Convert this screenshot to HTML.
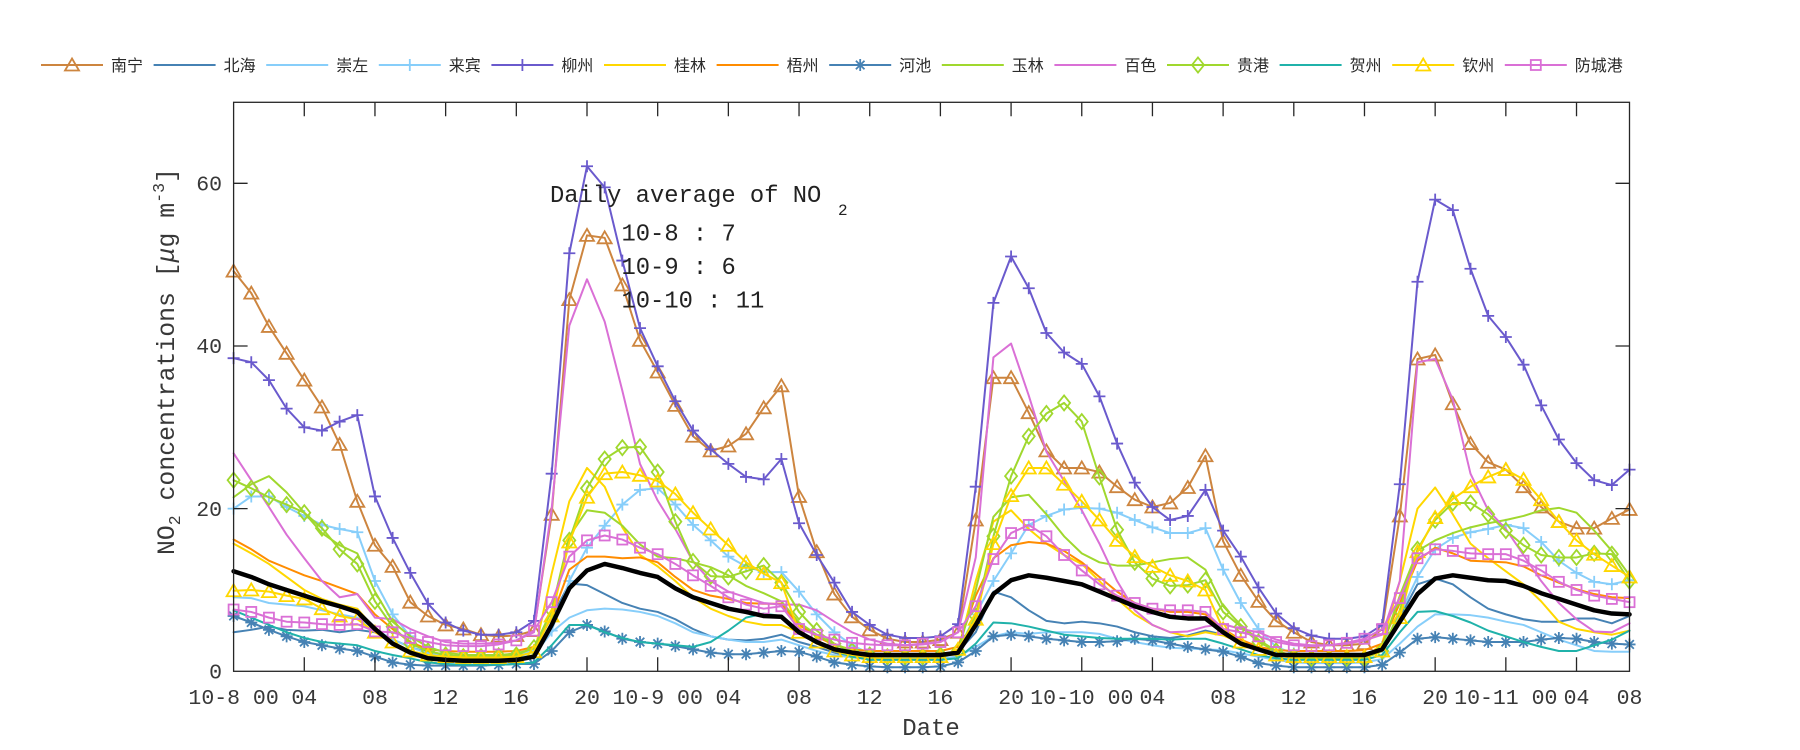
<!DOCTYPE html>
<html>
<head>
<meta charset="utf-8">
<style>
  html,body{margin:0;padding:0;background:#fff;}
  svg{display:block;}
  .mono{font-family:"Liberation Mono","DejaVu Sans Mono",monospace;fill:#383838;}
  .leg{font-family:"Liberation Sans","Noto Sans CJK SC",sans-serif;font-size:16px;fill:#2a2a2a;}
</style>
</head>
<body>
<svg id="chart" width="1800" height="750" viewBox="0 0 1800 750" xmlns="http://www.w3.org/2000/svg">
  <rect x="0" y="0" width="1800" height="750" fill="#fff"/>
  <g id="series"></g>
  <g id="axes" stroke="#262626" stroke-width="1.3" fill="none"></g>

  <!-- y tick labels -->
  <g class="mono" font-size="21.5" text-anchor="end">
    <text x="222" y="678.5">0</text>
    <text x="222" y="515.8">20</text>
    <text x="222" y="353.2">40</text>
    <text x="222" y="190.5">60</text>
  </g>

  <!-- x tick labels -->
  <g class="mono" font-size="21.5" text-anchor="middle">
    <text x="233.6" y="704">10-8 00</text>
    <text x="304.3" y="704">04</text>
    <text x="375.0" y="704">08</text>
    <text x="445.6" y="704">12</text>
    <text x="516.3" y="704">16</text>
    <text x="587.0" y="704">20</text>
    <text x="657.7" y="704">10-9 00</text>
    <text x="728.4" y="704">04</text>
    <text x="799.0" y="704">08</text>
    <text x="869.7" y="704">12</text>
    <text x="940.4" y="704">16</text>
    <text x="1011.1" y="704">20</text>
    <text x="1081.8" y="704">10-10 00</text>
    <text x="1152.4" y="704">04</text>
    <text x="1223.1" y="704">08</text>
    <text x="1293.8" y="704">12</text>
    <text x="1364.5" y="704">16</text>
    <text x="1435.2" y="704">20</text>
    <text x="1505.8" y="704">10-11 00</text>
    <text x="1576.5" y="704">04</text>
    <text x="1629.5" y="704">08</text>
  </g>

  <!-- x label -->
  <text class="mono" x="931" y="735" font-size="24" text-anchor="middle">Date</text>

  <!-- y label -->
  <text class="mono" transform="translate(174,555) rotate(-90)" font-size="24.8">NO<tspan font-size="16.5" dy="6">2</tspan><tspan dy="-6"> concentrations [</tspan><tspan font-style="italic">μ</tspan>g m<tspan font-size="16.5" dy="-10">-3</tspan><tspan dy="10">]</tspan></text>

  <!-- annotation -->
  <g class="mono" style="fill:#222">
    <text x="550" y="202" font-size="23.8">Daily average of NO</text>
    <text x="838" y="215" font-size="16">2</text>
    <text x="621.5" y="240.5" font-size="23.8">10-8 : 7</text>
    <text x="621.5" y="274" font-size="23.8">10-9 : 6</text>
    <text x="621.5" y="307.5" font-size="23.8">10-10 : 11</text>
  </g>

  <!-- legend -->
  <g id="legendmarks"></g>
  <g class="leg">
    <text x="111" y="71">南宁</text>
    <text x="223.6" y="71">北海</text>
    <text x="336.2" y="71">崇左</text>
    <text x="448.8" y="71">来宾</text>
    <text x="561.4" y="71">柳州</text>
    <text x="674" y="71">桂林</text>
    <text x="786.6" y="71">梧州</text>
    <text x="899.2" y="71">河池</text>
    <text x="1011.8" y="71">玉林</text>
    <text x="1124.4" y="71">百色</text>
    <text x="1237" y="71">贵港</text>
    <text x="1349.6" y="71">贺州</text>
    <text x="1462.2" y="71">钦州</text>
    <text x="1574.8" y="71">防城港</text>
  </g>
</svg>

<script>
(function(){
  var X0=233.6, XS=17.67, Y0=671.3, YS=8.133;
  function X(h){return X0+h*XS;}
  function Y(v){return Y0-v*YS;}
  var G='#A0D82E';
  var S=[
   {c:'#CD853F',m:'tri',d:[49.2,46.5,42.4,39.1,35.8,32.5,27.9,20.9,15.5,12.9, 8.5,6.8,5.7,5.2,4.5,4.3,4.4,5.0,19.3,45.7, 53.6,53.3,47.5,40.7,36.8,32.7,28.9,27.1,27.7,29.2, 32.4,35.1,21.5,14.7,9.5,6.7,5.1,4.0,3.6,3.6, 3.9,4.8,18.6,36.1,36.1,31.8,27.1,25.0,25.0,24.5, 22.7,21.1,20.2,20.7,22.6,26.5,16.0,11.8,8.6,6.2, 4.8,3.6,3.2,3.2,3.4,5.2,19.1,38.4,38.9,32.9, 28.0,25.7,24.8,22.7,20.2,18.4,17.6,17.6,18.8,19.9]},
   {c:'#4682B4',m:null,d:[4.8,5.1,5.5,5.1,5.0,5.1,4.8,5.1,4.8,3.9, 3.0,2.3,1.8,1.6,1.6,1.6,1.7,3.0,6.6,10.8, 10.6,9.5,8.4,7.7,7.3,6.4,5.2,4.3,3.9,3.8, 4.0,4.5,3.6,3.0,2.3,1.8,1.7,1.7,1.7,1.7, 1.7,2.4,4.8,9.8,9.1,7.5,6.2,5.9,6.1,5.9, 5.5,4.8,4.3,4.1,4.4,5.0,4.5,3.6,2.9,2.3, 1.8,1.7,1.7,1.7,1.8,2.7,6.6,10.7,11.4,10.7, 9.1,7.7,7.0,6.4,6.1,6.1,6.5,6.5,5.9,6.8]},
   {c:'#87CEFA',m:null,d:[9.1,9.0,8.4,8.2,8.0,7.5,7.0,6.6,5.2,3.9, 3.0,2.2,1.8,1.6,1.6,1.6,1.7,2.0,4.8,6.6, 7.5,7.7,7.6,7.3,6.8,5.9,4.8,4.3,3.9,3.6, 3.6,3.9,3.2,2.5,2.0,1.7,1.6,1.6,1.6,1.6, 1.6,1.8,3.0,4.3,4.8,4.6,4.8,4.8,4.8,4.6, 4.0,3.6,3.2,2.9,2.8,2.7,2.6,2.2,1.8,1.4, 1.1,1.0,1.0,1.0,1.1,1.5,3.4,5.5,7.0,7.0, 6.9,6.6,6.1,5.7,4.8,3.9,3.2,2.5,2.4,2.4]},
   {c:'#87CEFA',m:'plus',d:[20.0,21.5,21.5,20.2,19.1,18.0,17.5,17.1,11.1,7.0, 4.3,3.0,2.3,2.0,1.9,1.9,2.0,2.6,5.0,11.1, 15.2,17.9,20.5,22.3,22.5,20.5,18.0,16.1,14.1,12.9, 12.2,12.2,9.8,7.0,4.8,3.2,2.2,1.9,1.8,1.8, 1.8,2.5,7.0,11.1,14.5,18.0,19.1,19.9,20.1,20.0, 19.5,18.6,17.7,17.0,17.0,17.6,12.5,8.4,5.2,3.0, 2.2,1.9,1.8,1.8,1.9,3.0,7.0,11.6,15.0,16.4, 17.1,17.5,18.0,17.6,15.9,13.6,12.1,11.0,10.7,11.2]},
   {c:'#6A5ACD',m:'plus',d:[38.5,38.0,35.8,32.3,30.0,29.6,30.7,31.5,21.5,16.4, 12.1,8.3,6.0,5.0,4.5,4.5,4.8,6.2,24.3,51.4, 62.1,59.5,50.5,42.2,37.5,33.2,29.6,27.3,25.5,23.9, 23.6,26.1,18.2,14.3,10.9,7.3,5.7,4.5,4.1,4.1, 4.3,5.8,22.7,45.3,51.0,47.1,41.6,39.2,37.8,33.8, 28.0,23.2,20.2,18.6,19.1,22.3,17.3,14.1,10.3,7.1, 5.3,4.4,4.0,4.0,4.3,5.7,23.0,47.9,58.0,56.7, 49.5,43.7,41.1,37.7,32.7,28.5,25.6,23.5,22.9,24.8]},
   {c:'#FFD700',m:null,d:[15.7,14.5,13.2,11.6,10.0,8.9,8.2,7.7,5.2,3.4, 2.5,1.8,1.5,1.4,1.4,1.4,1.5,2.0,12.0,20.9, 25.0,22.7,17.7,14.3,12.9,11.1,9.1,7.7,6.8,6.1, 5.7,5.7,4.8,3.4,2.5,2.0,1.6,1.5,1.5,1.5, 1.6,2.5,11.1,18.4,19.8,17.5,15.7,14.3,13.2,11.1, 8.9,7.0,5.7,4.8,4.3,4.8,4.4,3.5,2.7,2.0, 1.6,1.5,1.5,1.5,1.6,3.4,11.1,20.0,22.6,19.3, 15.7,13.9,12.3,10.7,8.6,6.1,5.2,4.8,4.5,5.0]},
   {c:'#FF8C00',m:null,d:[16.2,15.0,13.6,12.7,11.8,11.1,10.3,9.5,7.0,5.2, 3.6,2.7,2.5,2.4,2.4,2.4,2.5,3.0,6.6,12.5, 14.1,14.1,13.9,14.0,13.4,11.6,10.0,9.3,8.9,8.4, 8.3,8.3,5.7,4.3,3.2,2.7,2.5,2.5,2.5,2.5, 2.5,3.0,9.3,13.9,15.5,15.9,15.7,14.8,13.4,11.6, 9.8,8.4,7.7,7.3,7.3,7.0,5.2,3.9,3.0,2.6, 2.5,2.5,2.5,2.5,2.6,3.4,8.4,13.6,15.2,14.5, 13.6,13.5,13.4,12.9,11.8,10.9,10.1,9.5,9.1,9.0]},
   {c:'#4682B4',m:'star',d:[6.8,6.0,5.1,4.3,3.6,3.2,2.8,2.5,1.8,1.1, 0.8,0.7,0.7,0.7,0.7,0.8,0.9,0.9,2.5,4.8, 5.7,4.9,4.0,3.6,3.4,3.1,2.7,2.3,2.1,2.1, 2.3,2.5,2.4,1.8,1.1,0.8,0.6,0.5,0.5,0.5, 0.6,1.1,2.5,4.3,4.5,4.3,4.0,3.8,3.6,3.6, 3.7,4.0,3.8,3.4,3.0,2.7,2.4,1.8,1.0,0.7, 0.5,0.5,0.5,0.5,0.5,0.8,2.3,4.0,4.2,4.0, 3.8,3.6,3.6,3.6,3.9,4.1,4.0,3.6,3.4,3.3]},
   {c:G,m:null,d:[21.4,23.0,24.0,22.0,19.5,17.0,15.5,14.5,9.8,6.1, 4.3,3.0,2.3,2.0,2.0,2.0,2.2,2.8,7.5,16.6, 19.8,19.5,17.9,15.6,14.1,13.9,13.4,12.8,11.8,10.5, 9.6,8.6,6.0,4.5,3.3,2.5,2.0,2.0,2.0,2.0, 2.0,2.5,10.0,19.0,21.4,21.7,19.3,16.6,14.5,13.4, 13.0,13.0,13.4,13.8,14.0,12.5,8.0,5.7,3.9,2.5, 1.9,1.8,1.8,1.8,1.9,3.0,9.3,14.8,16.1,17.0, 17.7,18.2,18.6,19.1,19.8,20.1,19.5,17.3,14.8,11.8]},
   {c:'#DA70D6',m:null,d:[26.8,23.5,20.2,16.8,13.9,11.1,9.1,9.5,6.6,6.4, 5.2,4.3,3.6,3.4,3.4,3.5,3.8,4.8,20.0,42.5, 48.2,43.0,34.5,25.5,21.0,17.5,13.5,11.1,9.8,9.1, 8.4,8.2,8.2,7.5,6.1,4.8,3.9,3.4,3.2,3.3, 3.6,4.8,14.0,38.6,40.3,33.9,27.0,23.4,19.8,15.7, 11.1,7.5,5.7,4.8,4.9,5.5,5.8,5.2,4.8,3.9, 3.4,3.2,3.2,3.4,3.8,4.5,11.1,38.0,38.4,33.4, 24.3,19.8,17.5,14.3,11.1,8.4,6.4,4.9,4.8,5.9]},
   {c:G,m:'dia',d:[23.5,22.5,21.4,20.5,19.5,17.6,15.0,13.2,8.6,5.5, 3.4,2.5,2.0,1.8,1.8,1.9,2.0,2.9,7.5,16.1, 22.5,26.1,27.5,27.6,24.5,18.4,13.5,11.7,11.6,12.3, 13.0,10.9,7.3,5.0,3.4,2.5,2.0,1.8,1.8,1.8, 2.0,2.5,6.8,16.6,24.0,28.9,31.7,33.0,30.7,23.9, 17.4,13.4,11.4,10.5,10.6,11.2,7.3,5.5,3.6,2.5, 1.8,1.6,1.6,1.6,1.6,2.5,7.5,15.0,18.6,20.7, 20.7,19.3,17.3,15.5,14.3,14.0,14.0,14.5,14.4,11.1]},
   {c:'#20B2AA',m:null,d:[7.5,6.6,5.7,4.8,4.1,3.6,3.4,3.2,2.5,2.0, 1.6,1.1,0.9,0.8,0.8,0.8,0.9,1.1,3.2,5.7, 5.7,4.8,4.1,3.6,3.4,3.2,3.0,3.6,5.0,6.6, 7.1,6.8,4.8,3.6,2.5,1.8,1.4,1.4,1.4,1.4, 1.4,1.6,3.4,6.0,5.9,5.5,5.0,4.5,4.3,4.1, 4.0,4.0,4.0,3.9,4.0,4.0,3.4,2.7,2.0,1.6, 1.4,1.4,1.4,1.4,1.4,2.0,4.8,7.3,7.4,6.8, 6.0,5.0,4.3,3.6,3.0,2.5,2.5,3.2,3.9,5.0]},
   {c:'#FFD700',m:'tri',d:[9.9,10.0,9.8,9.3,8.9,7.7,6.8,6.4,4.8,3.6, 2.5,2.0,1.8,1.7,1.7,1.7,1.8,2.4,6.8,15.9, 21.4,24.3,24.5,24.1,23.4,21.8,19.5,17.5,15.5,13.4, 12.0,10.9,4.8,3.6,2.5,2.0,1.8,1.8,1.8,1.8, 1.8,2.7,6.4,15.7,21.6,25.0,25.0,23.0,20.9,18.6, 16.1,14.1,12.9,11.8,11.1,10.0,5.2,3.6,2.7,2.0, 1.8,1.8,1.8,1.8,1.8,2.5,6.6,14.7,18.9,21.2, 22.7,23.9,24.8,23.6,21.1,18.4,16.1,14.4,13.0,11.6]},
   {c:'#DA70D6',m:'sq',d:[7.6,7.3,6.6,6.1,6.0,5.8,5.7,5.8,4.9,4.8, 4.1,3.6,3.2,3.1,3.1,3.3,3.8,5.0,8.5,14.1, 16.1,16.7,16.2,15.2,14.4,13.2,11.8,10.5,9.1,8.2, 7.7,8.0,5.2,4.5,3.9,3.5,3.3,3.2,3.2,3.4, 3.6,4.8,8.0,13.8,17.0,18.0,16.6,14.3,12.4,10.7, 9.3,8.4,7.7,7.5,7.5,7.3,5.2,4.8,4.3,3.6, 3.2,3.1,3.2,3.5,4.0,5.2,9.0,13.9,15.0,14.8, 14.5,14.4,14.4,13.6,12.4,11.0,10.0,9.3,8.9,8.5]}
  ];
  var BLACK=[12.3,11.6,10.7,10.0,9.3,8.6,8.0,7.3,5.2,3.4, 2.3,1.6,1.4,1.3,1.3,1.3,1.4,1.8,5.7,10.2, 12.4,13.2,12.7,12.1,11.6,10.2,9.1,8.4,7.7,7.3, 6.8,6.7,4.8,3.6,2.7,2.3,2.0,2.0,2.0,2.0, 2.0,2.3,5.7,9.5,11.2,11.8,11.5,11.1,10.7,9.8, 8.9,8.0,7.3,6.7,6.5,6.5,4.8,3.4,2.7,2.0, 2.0,2.0,2.0,2.0,2.0,2.7,6.1,9.5,11.4,11.8, 11.5,11.2,11.1,10.5,9.6,8.9,8.2,7.5,7.1,7.0];

  function f(n){return n.toFixed(2);}
  function mk(t,x,y,c){
    var sw=' stroke="'+c+'" stroke-width="1.8" fill="none"';
    if(t==='tri') return '<path d="M'+f(x)+','+f(y-6.5)+'L'+f(x+7)+','+f(y+5.5)+'L'+f(x-7)+','+f(y+5.5)+'Z"'+sw+' stroke-linejoin="miter"/>';
    if(t==='plus') return '<path d="M'+f(x-6)+','+f(y)+'H'+f(x+6)+'M'+f(x)+','+f(y-6)+'V'+f(y+6)+'"'+sw+'/>';
    if(t==='star') return '<path d="M'+f(x-6)+','+f(y)+'H'+f(x+6)+'M'+f(x)+','+f(y-6)+'V'+f(y+6)+'M'+f(x-4.3)+','+f(y-4.3)+'L'+f(x+4.3)+','+f(y+4.3)+'M'+f(x-4.3)+','+f(y+4.3)+'L'+f(x+4.3)+','+f(y-4.3)+'"'+sw+'/>';
    if(t==='dia') return '<path d="M'+f(x)+','+f(y-7.5)+'L'+f(x+6)+','+f(y)+'L'+f(x)+','+f(y+7.5)+'L'+f(x-6)+','+f(y)+'Z"'+sw+'/>';
    if(t==='sq') return '<rect x="'+f(x-5)+'" y="'+f(y-5)+'" width="10" height="10"'+sw+'/>';
    return '';
  }
  function line(d,c,w){
    var p=[];for(var i=0;i<d.length;i++)p.push(f(X(i))+','+f(Y(d[i])));
    return '<polyline points="'+p.join(' ')+'" fill="none" stroke="'+c+'" stroke-width="'+w+'" stroke-linejoin="round" stroke-linecap="round"/>';
  }
  var h='';
  for(var s=0;s<S.length;s++){
    var o=S[s];
    h+=line(o.d,o.c,2);
    if(o.m){for(var i=0;i<o.d.length;i++)h+=mk(o.m,X(i),Y(o.d[i]),o.c);}
  }
  h+=line(BLACK,'#000',4.5);
  document.getElementById('series').innerHTML=h;

  // legend
  var lg='';
  for(var k=0;k<S.length;k++){
    var x0=41+k*112.6, y0=65;
    lg+='<line x1="'+f(x0)+'" y1="'+y0+'" x2="'+f(x0+62)+'" y2="'+y0+'" stroke="'+S[k].c+'" stroke-width="2"/>';
    if(S[k].m) lg+=mk(S[k].m,x0+31,y0,S[k].c);
  }
  document.getElementById('legendmarks').innerHTML=lg;

  // axes
  var L=233.6,R=1629.5,T=102.3,B=671.3,a='';
  a+='<rect x="'+L+'" y="'+T+'" width="'+f(R-L)+'" height="'+f(B-T)+'"/>';
  for(var t=1;t<=19;t++){
    var xx=f(L+t*70.68);
    a+='<path d="M'+xx+','+B+'V'+(B-14)+'M'+xx+','+T+'V'+(T+14)+'"/>';
  }
  [20,40,60].forEach(function(v){
    var yy=f(Y(v));
    a+='<path d="M'+L+','+yy+'H'+(L+14)+'M'+R+','+yy+'H'+(R-14)+'"/>';
  });
  document.getElementById('axes').innerHTML=a;
})();
</script>
</body>
</html>
